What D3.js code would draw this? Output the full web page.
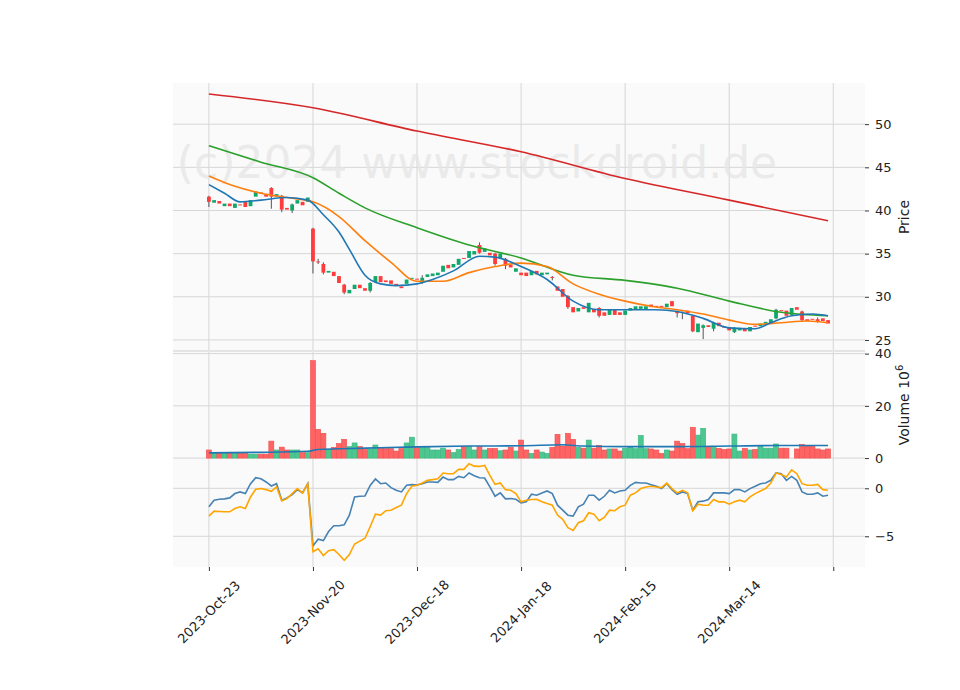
<!DOCTYPE html>
<html>
<head>
<meta charset="utf-8">
<script src="https://cdn.jsdelivr.net/npm/d3@7"></script>
<style>
  body { margin: 0; background: #fff; }
  text { font-family: "DejaVu Sans", sans-serif; }
</style>
</head>
<body>
<div id="chart"></div>
<script>
const dates = ['2023-Oct-23', '2023-Nov-20', '2023-Dec-18', '2024-Jan-18', '2024-Feb-15', '2024-Mar-14', ''];
const tickIdx = [0, 20, 40, 60, 80, 100, 120];

const opens = [41.6, 40.9, 41.1, 40.5, 40.8, 40.3, 40.7, 41.0, 40.5, 41.6,
  42.1, 41.9, 42.6, 41.6, 41.7, 40.3, 40.0, 40.8, 41.0, 41.0,
  37.9, 34.1, 33.8, 32.8, 32.9, 32.4, 31.4, 30.4, 30.9, 31.4,
  31.0, 30.7, 31.7, 32.4, 31.9, 31.9, 31.5, 31.2, 31.5, 32.1,
  32.1, 31.6, 32.3, 32.4, 32.5, 32.9, 33.7, 33.4, 33.7, 34.5,
  34.5, 34.9, 36.0, 35.2, 35.1, 35.0, 34.5, 34.4, 33.7, 32.9,
  32.8, 32.8, 32.5, 33.0, 32.5, 32.6, 32.3, 31.2, 30.9, 30.1,
  28.8, 28.3, 28.8, 28.2, 28.6, 28.7, 28.2, 27.9, 28.5, 28.2,
  27.9, 28.4, 28.5, 28.6, 28.5, 29.1, 28.95, 28.95, 28.8, 29.5,
  28.3, 28.25, 28.4, 27.8, 25.9, 26.4, 26.7, 26.3, 27.0, 26.55,
  26.4, 25.9, 26.1, 26.3, 26.0, 26.65, 26.6, 26.8, 26.9, 27.5,
  28.45, 28.4, 27.9, 28.8, 28.3, 27.4, 27.45, 27.4, 27.5, 27.3];
const closes = [41.0, 41.2, 40.8, 40.8, 40.5, 40.8, 40.6, 40.4, 41.2, 42.2,
  42.0, 41.6, 41.6, 41.9, 40.1, 40.1, 40.7, 41.2, 40.6, 41.5,
  34.1, 34.0, 32.8, 33.0, 32.4, 31.6, 30.5, 30.8, 31.4, 31.0,
  30.7, 31.6, 32.4, 31.7, 31.7, 31.5, 31.3, 31.0, 32.0, 32.2,
  32.0, 32.2, 32.6, 32.7, 32.8, 33.6, 33.3, 33.8, 34.4, 34.4,
  35.3, 35.3, 35.1, 35.6, 34.8, 33.8, 35.0, 33.6, 33.4, 33.3,
  32.5, 32.4, 33.0, 32.6, 32.8, 32.8, 32.2, 30.7, 30.0, 28.8,
  28.2, 28.7, 28.6, 29.3, 28.2, 27.8, 27.8, 28.5, 27.9, 27.9,
  28.4, 28.7, 28.9, 28.9, 28.9, 28.8, 28.9, 28.9, 29.2, 28.9,
  28.1, 28.2, 28.1, 26.0, 26.9, 26.7, 26.5, 27.0, 26.6, 26.5,
  26.1, 26.4, 26.4, 26.0, 26.5, 26.6, 26.9, 27.1, 27.4, 28.5,
  28.4, 27.8, 28.7, 28.5, 27.3, 27.2, 27.4, 27.1, 27.2, 26.9];
// notable wicks [index, high, low]
const wicks = [[0, 41.7, 40.4], [12, 42.7, 40.2], [14, 41.8, 39.8], [16, 40.8, 39.7], [20, 38.0, 32.7],
  [21, 34.4, 33.8], [22, 34.0, 32.6], [26, 31.5, 30.3], [31, 31.7, 30.5], [41, 32.5, 31.5],
  [52, 36.3, 35.0], [55, 35.1, 33.6], [57, 34.5, 33.2], [66, 32.4, 31.9], [69, 30.2, 28.6],
  [75, 28.8, 27.6], [90, 28.4, 27.6], [91, 28.3, 27.4], [93, 27.9, 25.9], [95, 26.8, 25.1],
  [97, 27.1, 26.0], [101, 26.5, 25.8], [109, 28.6, 27.4], [114, 28.4, 27.1], [117, 27.6, 27.0]];

const volumes = [3.1, 2.0, 1.8, 1.8, 1.8, 1.8, 1.8, 1.8, 1.5, 1.5,
  1.5, 1.5, 6.5, 3.1, 4.2, 3.1, 3.1, 3.1, 2.1, 2.1,
  37.3, 11.0, 9.5, 3.3, 4.1, 5.6, 7.2, 4.4, 5.8, 4.4,
  3.3, 3.5, 5.0, 3.8, 3.6, 3.6, 2.7, 3.6, 5.8, 8.0,
  4.0, 4.0, 4.0, 3.1, 3.1, 3.8, 3.1, 2.1, 3.3, 4.4,
  4.4, 3.1, 4.4, 3.1, 3.7, 3.7, 2.8, 3.1, 4.1, 2.7,
  6.9, 3.1, 1.8, 3.1, 2.3, 1.8, 4.1, 9.1, 4.6, 9.5,
  7.2, 4.1, 3.8, 6.9, 3.8, 4.9, 3.1, 3.5, 3.5, 2.7,
  3.7, 4.4, 3.6, 8.7, 3.6, 3.5, 3.1, 1.8, 3.1, 2.7,
  6.5, 5.6, 3.6, 11.8, 8.8, 11.4, 4.4, 4.1, 3.7, 3.3,
  3.5, 9.2, 2.7, 3.7, 3.1, 3.3, 4.4, 3.8, 3.8, 5.4,
  3.8, 3.8, 0, 3.5, 5.2, 4.6, 4.7, 3.5, 3.1, 3.5];
const volMa = [[0, 2.0], [10, 2.2], [19, 2.6], [21, 3.3], [30, 3.8], [40, 4.3], [50, 4.6],
  [60, 4.7], [68, 5.1], [72, 4.6], [80, 4.4], [90, 4.4], [100, 4.6], [110, 4.8], [119, 4.8]];

const indA = [-1.93, -1.24, -1.14, -1.1, -1.0, -0.55, -0.38, -0.55, 0.48, 1.1,
  1.0, 0.66, 0.24, 0.48, -1.24, -1.0, -0.66, -0.14, -0.48, 0.48,
  -6.0, -5.3, -5.45, -4.5, -3.9, -3.9, -3.8, -2.8, -0.9, -0.83,
  -0.8, 0.3, 0.97, 0.48, 0.55, 0.07, -0.21, -0.38, 0.31, 0.38,
  0.34, 0.48, 0.66, 0.66, 0.62, 1.17, 0.9, 0.9, 1.24, 1.1,
  1.6, 1.31, 1.1, 1.07, 0.14, -0.83, -0.48, -1.1, -1.07, -1.14,
  -1.52, -1.41, -0.62, -0.72, -0.48, -0.28, -0.55, -1.76, -2.28, -2.8,
  -2.9, -1.93, -1.66, -0.72, -0.72, -1.24, -0.83, -0.21, -0.48, -0.28,
  -0.21, 0.31, 0.62, 0.55, 0.55, 0.38, 0.21, -0.03, 0.48, -0.14,
  -0.62, -0.38, -0.55, -2.28, -1.41, -1.34, -1.17, -0.48, -0.48, -0.48,
  -0.55, -0.14, -0.14, -0.38, -0.03, 0.21, 0.48, 0.55, 0.83, 1.6,
  1.52, 0.83, 1.24, 0.83, -0.38, -0.62, -0.62, -0.48, -0.83, -0.72];
const indB = [-2.9, -2.38, -2.41, -2.45, -2.45, -2.1, -1.93, -2.1, -0.9, -0.1,
  -0.03, -0.14, -0.31, 0.14, -1.31, -1.07, -0.55, -0.03, -0.48, 0.48,
  -6.6, -6.3, -7.0, -6.5, -6.4, -6.9, -7.5, -6.9, -5.8, -5.5,
  -5.2, -4.0, -2.7, -2.79, -2.34, -2.28, -2.0, -1.76, -0.55, 0.21,
  0.31, 0.55, 0.83, 0.9, 1.0, 1.59, 1.52, 1.52, 1.97, 1.97,
  2.55, 2.31, 2.28, 2.38, 1.34, 0.41, 0.55, -0.14, -0.21, -0.55,
  -1.41, -1.24, -1.17, -1.14, -1.41, -1.59, -1.76, -2.79, -3.24, -4.1,
  -4.4, -3.59, -3.38, -2.55, -2.69, -3.38, -3.03, -2.28, -2.34, -1.93,
  -1.76, -0.72, -0.48, -0.03, 0.14, 0.21, 0.14, 0.07, 0.55, -0.03,
  -0.48, -0.21, -0.48, -2.34, -1.66, -1.76, -1.76, -1.17, -1.41, -1.41,
  -1.66, -1.41, -1.24, -1.41, -0.9, -0.55, -0.28, -0.03, 0.55, 1.59,
  1.45, 1.17, 1.93, 1.52, 0.48, 0.31, 0.31, 0.41, -0.14, -0.21];

const ma1 = [[0, 53.5], [20, 51.9], [40, 49.2], [60, 46.8], [80, 43.7], [100, 41.2], [119, 38.8]];
const ma2 = [[0, 47.5], [10, 45.6], [20, 43.8], [25, 42.0], [30, 40.3], [40, 38.0], [50, 36.0], [60, 34.5],
  [70, 32.5], [80, 31.9], [90, 31.0], [100, 29.5], [110, 28.2], [119, 27.8]];
const ma3 = [[0, 44.0], [5, 42.8], [10, 42.0], [15, 41.5], [20, 41.0], [25, 39.3], [30, 36.5], [35, 34.0],
  [40, 31.8], [45, 31.8], [50, 32.8], [55, 33.5], [60, 33.9], [65, 33.5], [70, 31.5], [75, 30.3],
  [80, 29.5], [85, 28.9], [90, 28.5], [95, 28.0], [100, 27.3], [105, 26.8], [110, 27.0], [115, 27.2], [119, 27.0]];
const ma4 = [[0, 43.0], [3, 42.0], [6, 41.0], [10, 41.2], [15, 41.5], [19, 41.2], [22, 39.5], [25, 37.5],
  [27, 35.5], [30, 32.5], [33, 31.5], [36, 31.3], [40, 31.5], [43, 32.0], [47, 33.0], [52, 34.7],
  [55, 34.6], [60, 33.5], [65, 32.0], [70, 29.5], [75, 28.5], [80, 28.5], [86, 28.5], [90, 28.3],
  [95, 27.5], [100, 26.4], [105, 26.3], [108, 27.0], [112, 27.8], [116, 28.0], [119, 27.8]];

const W = 960, H = 690;
const left = 173, right = 865;
const panels = {
  price: { top: 83, bottom: 351 },
  vol: { top: 351, bottom: 462 },
  ind: { top: 462, bottom: 567 },
};

const svg = d3.select('#chart').append('svg').attr('width', W).attr('height', H);

const x = d3.scaleLinear().domain([-6.9, 126.1]).range([left, right]);
const yP = d3.scaleLinear().domain([23.72, 54.77]).range([panels.price.bottom, panels.price.top]);
const yV = d3.scaleLinear().domain([-1.5, 41.0]).range([panels.vol.bottom, panels.vol.top]);
const yI = d3.scaleLinear().domain([-8.2, 2.74]).range([panels.ind.bottom, panels.ind.top]);

const grid = '#d6d6d6';
const upC = '#0fa86c', dnC = '#ff3b3b';
const upV = '#4cc790', dnV = '#ff6464';

function panel(p, y, ticks, fmt) {
  const g = svg.append('g');
  g.append('rect').attr('x', left).attr('y', p.top).attr('width', right - left)
    .attr('height', p.bottom - p.top).attr('fill', '#fafafa');
  g.selectAll('.vg').data(tickIdx).join('line')
    .attr('x1', d => x(d)).attr('x2', d => x(d)).attr('y1', p.top).attr('y2', p.bottom)
    .attr('stroke', grid).attr('stroke-width', 1);
  g.selectAll('.hg').data(ticks).join('line')
    .attr('x1', left).attr('x2', right).attr('y1', d => y(d)).attr('y2', d => y(d))
    .attr('stroke', grid).attr('stroke-width', 1);
  const ax = svg.append('g').attr('transform', `translate(${right},0)`)
    .call(d3.axisRight(y).tickValues(ticks).tickSize(4).tickPadding(6).tickFormat(fmt));
  ax.select('.domain').remove();
  ax.selectAll('line').attr('stroke', '#333');
  ax.selectAll('text').attr('font-size', 13).attr('fill', '#222');
  return g;
}

panel(panels.price, yP, [25, 30, 35, 40, 45, 50], d3.format('d'));
panel(panels.vol, yV, [0, 20, 40], d3.format('d'));
panel(panels.ind, yI, [-5, 0], d => (d < 0 ? '\u2212' + Math.abs(d) : d));
svg.append('line').attr('x1', left).attr('x2', right).attr('y1', panels.vol.top).attr('y2', panels.vol.top)
  .attr('stroke', '#e4e4e4').attr('stroke-width', 2);

// watermark
svg.append('text').attr('x', 477).attr('y', 178).attr('text-anchor', 'middle')
  .attr('font-size', 44).attr('fill', '#e6e6e6').attr('fill-opacity', 0.8)
  .text('(c)2024 www.stockdroid.de');

// candles
const bars = closes.map((c, i) => ({ i, o: opens[i], c, v: volumes[i], up: c >= opens[i] }));
const bw = 3.8;
svg.append('g').selectAll('line').data(wicks).join('line')
  .attr('x1', d => x(d[0])).attr('x2', d => x(d[0]))
  .attr('y1', d => yP(d[1])).attr('y2', d => yP(d[2]))
  .attr('stroke', '#555').attr('stroke-width', 1);
svg.append('g').selectAll('rect').data(bars).join('rect')
  .attr('x', d => x(d.i) - bw / 2).attr('width', bw)
  .attr('y', d => yP(Math.max(d.o, d.c)))
  .attr('height', d => Math.max(1, Math.abs(yP(d.o) - yP(d.c))))
  .attr('fill', d => (d.up ? upC : dnC));

const lineP = d3.line().x(d => x(d[0])).y(d => yP(d[1])).curve(d3.curveMonotoneX);
[[ma1, '#d62728'], [ma2, '#2ca02c'], [ma3, '#ff7f0e'], [ma4, '#1f77b4']].forEach(([data, col]) => {
  svg.append('path').attr('d', lineP(data)).attr('fill', 'none').attr('stroke', col).attr('stroke-width', 1.6);
});

// volume
const vw = 5.0;
svg.append('g').selectAll('rect').data(bars.filter(d => d.v > 0)).join('rect')
  .attr('x', d => x(d.i) - vw / 2).attr('width', vw)
  .attr('y', d => yV(d.v)).attr('height', d => yV(0) - yV(d.v))
  .attr('fill', d => (d.up ? upV : dnV))
  .attr('stroke', d => (d.up ? '#3bb57f' : '#f04c4c')).attr('stroke-width', 0.6);
svg.append('path')
  .attr('d', d3.line().x(d => x(d[0])).y(d => yV(d[1])).curve(d3.curveMonotoneX)(volMa))
  .attr('fill', 'none').attr('stroke', '#1f77b4').attr('stroke-width', 1.6);

// indicator
const lineI = d3.line().x((d, i) => x(i)).y(d => yI(d));
svg.append('path').attr('d', lineI(indA)).attr('fill', 'none').attr('stroke', '#4682b4').attr('stroke-width', 1.6);
svg.append('path').attr('d', lineI(indB)).attr('fill', 'none').attr('stroke', '#ffa500').attr('stroke-width', 1.6);

// x axis (labels centred under ticks, rotated 45°)
const xa = svg.append('g').attr('transform', `translate(0,${panels.ind.bottom})`)
  .call(d3.axisBottom(x).tickValues(tickIdx).tickSize(4).tickFormat(''));
xa.select('.domain').remove();
xa.selectAll('line').attr('stroke', '#333');
svg.append('g').selectAll('text').data(tickIdx).join('text')
  .attr('transform', d => `translate(${x(d)},612) rotate(-45)`)
  .attr('text-anchor', 'middle').attr('dy', '0.35em')
  .attr('font-size', 13).attr('fill', '#222')
  .text((d, i) => dates[i]);

// axis labels
svg.append('text').attr('transform', `translate(909,${(panels.price.top + panels.price.bottom) / 2}) rotate(-90)`)
  .attr('text-anchor', 'middle').attr('font-size', 14).attr('fill', '#222').text('Price');
const vl = svg.append('text').attr('transform', `translate(909,405) rotate(-90)`)
  .attr('text-anchor', 'middle').attr('font-size', 14).attr('fill', '#222');
vl.append('tspan').text('Volume  10');
vl.append('tspan').attr('font-size', 10).attr('dy', -6).text('6');
</script>
</body>
</html>
